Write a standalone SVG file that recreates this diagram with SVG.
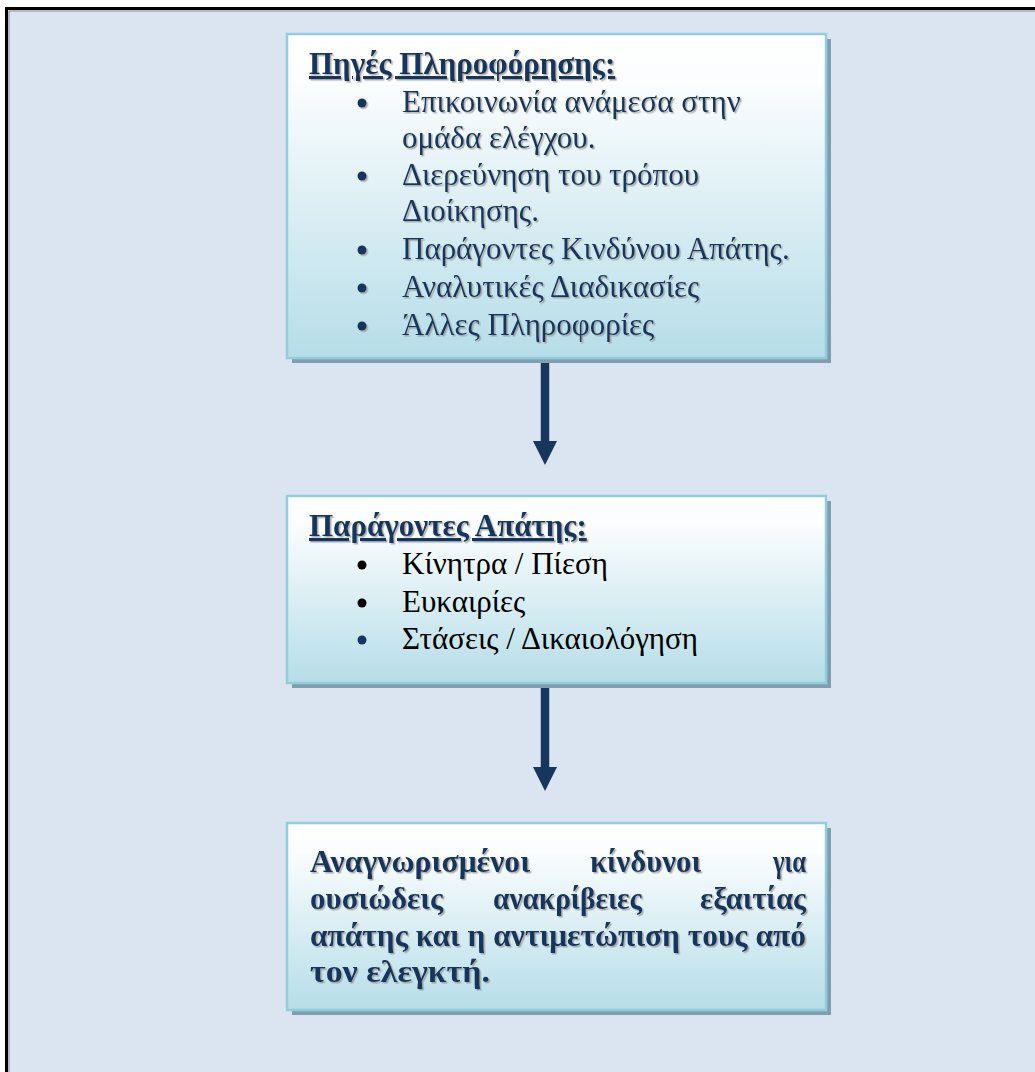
<svg xmlns="http://www.w3.org/2000/svg" width="1035" height="1072" viewBox="0 0 1035 1072">
  <defs>
    <linearGradient id="boxFill" x1="0" y1="0" x2="0" y2="1">
      <stop offset="0" stop-color="#ffffff"/>
      <stop offset="0.15" stop-color="#fbfdfe"/>
      <stop offset="1" stop-color="#b6dde8"/>
    </linearGradient>
    <filter id="txtShadow" x="-5%" y="-20%" width="110%" height="150%">
      <feDropShadow dx="1.5" dy="1.5" stdDeviation="0.6" flood-color="#8c8c8c" flood-opacity="0.7"/>
    </filter>
    <marker id="arrowHead" viewBox="0 0 24 24" refX="0" refY="12" markerWidth="24" markerHeight="24" markerUnits="userSpaceOnUse" orient="auto">
      <path d="M0,0 L24,12 L0,24 Z" fill="#17365d"/>
    </marker>
  </defs>
  <style>
    .shadow { fill: #7f9fae; }
    .box { fill: url(#boxFill); stroke: #92cddc; stroke-width: 2.5; }
    .t { font-family: "Liberation Serif", "Times New Roman", serif; font-size: 31px; fill: #17365d; }
    .b { font-weight: bold; }
    .ul { text-decoration: underline; }
    .blk { fill: #000000; }
    .sh { filter: url(#txtShadow); }
    .conn { stroke: #17365d; stroke-width: 8.5; fill: none; }
  </style>

  <!-- page background and frame -->
  <rect x="0" y="0" width="1035" height="1072" fill="#ffffff"/>
  <rect x="6.5" y="8.5" width="1040" height="1080" fill="#dbe5f1" stroke="#000000" stroke-width="3"/>
  <path d="M9,1072 V11 H1035" fill="none" stroke="#8a8a8a" stroke-width="1"/>

  <!-- connectors -->
  <g id="connectors">
    <path class="conn" d="M545,358 V441" marker-end="url(#arrowHead)"/>
    <path class="conn" d="M545,683 V767" marker-end="url(#arrowHead)"/>
  </g>

  <!-- information sources -->
  <g id="node-sources">
    <rect class="shadow" x="292" y="39" width="539" height="324"/>
    <rect class="box" x="287" y="34" width="539" height="324"/>
    <g class="sh">
      <text class="t b ul" x="309" y="74">Πηγές Πληροφόρησης:</text>
      <circle cx="362" cy="103" r="4.5" fill="#17365d"/>
      <text class="t" x="402" y="112">Επικοινωνία ανάμεσα στην</text>
      <text class="t" x="402" y="148">ομάδα ελέγχου.</text>
      <circle cx="362" cy="176" r="4.5" fill="#17365d"/>
      <text class="t" x="402" y="185">Διερεύνηση του τρόπου</text>
      <text class="t" x="402" y="221">Διοίκησης.</text>
      <circle cx="362" cy="250" r="4.5" fill="#17365d"/>
      <text class="t" x="402" y="259">Παράγοντες Κινδύνου Απάτης.</text>
      <circle cx="362" cy="288" r="4.5" fill="#17365d"/>
      <text class="t" x="402" y="297">Αναλυτικές Διαδικασίες</text>
      <circle cx="362" cy="326" r="4.5" fill="#17365d"/>
      <text class="t" x="402" y="335">Άλλες Πληροφορίες</text>
    </g>
  </g>

  <!-- fraud factors -->
  <g id="node-factors">
    <rect class="shadow" x="292" y="501" width="539" height="187"/>
    <rect class="box" x="287" y="496" width="539" height="187"/>
    <text class="t b ul sh" x="309" y="536">Παράγοντες Απάτης:</text>
    <circle cx="362" cy="565" r="4.5" fill="#000000"/>
    <text class="t blk" x="402" y="574">Κίνητρα / Πίεση</text>
    <circle cx="362" cy="603" r="4.5" fill="#000000"/>
    <text class="t blk" x="402" y="612">Ευκαιρίες</text>
    <circle cx="362" cy="640" r="4.5" fill="#17365d"/>
    <text class="t blk" x="402" y="649">Στάσεις / Δικαιολόγηση</text>
  </g>

  <!-- identified risks -->
  <g id="node-risks">
    <rect class="shadow" x="292" y="828" width="539" height="187"/>
    <rect class="box" x="287" y="823" width="539" height="187"/>
    <g class="sh">
      <text class="t b" x="310" y="872" textLength="220" lengthAdjust="spacingAndGlyphs">Αναγνωρισμένοι</text>
      <text class="t b" x="590" y="872" textLength="111" lengthAdjust="spacingAndGlyphs">κίνδυνοι</text>
      <text class="t b" x="773" y="872" textLength="33" lengthAdjust="spacingAndGlyphs">για</text>
      <text class="t b" x="310" y="909" textLength="133" lengthAdjust="spacingAndGlyphs">ουσιώδεις</text>
      <text class="t b" x="493" y="909" textLength="149" lengthAdjust="spacingAndGlyphs">ανακρίβειες</text>
      <text class="t b" x="700" y="909" textLength="106" lengthAdjust="spacingAndGlyphs">εξαιτίας</text>
      <text class="t b" x="310" y="946" textLength="496" lengthAdjust="spacingAndGlyphs">απάτης και η αντιμετώπιση τους από</text>
      <text class="t b" x="310" y="982" textLength="180" lengthAdjust="spacingAndGlyphs">τον ελεγκτή.</text>
    </g>
  </g>
</svg>
